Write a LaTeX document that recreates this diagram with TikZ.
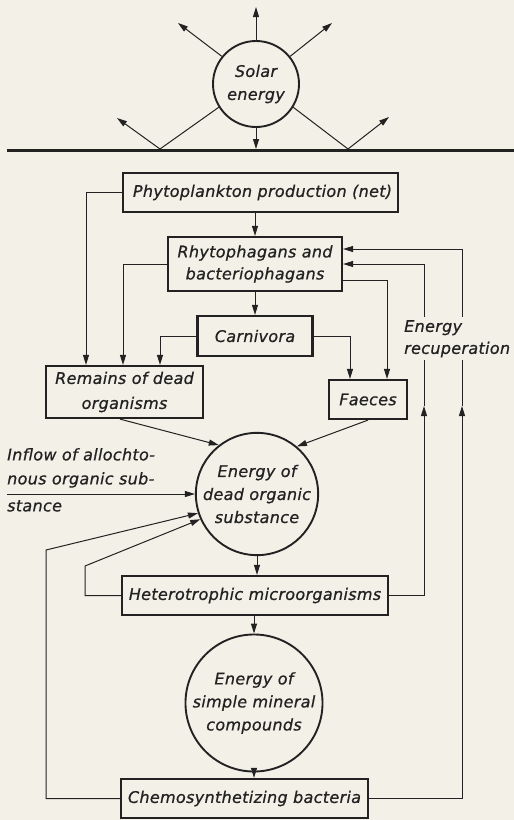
\documentclass[tikz,border=0pt]{standalone}
\usepackage{fontspec}
\setmainfont{DejaVu Sans}[LetterSpace=2, FakeBold=0.7]
\usetikzlibrary{arrows.meta}
\definecolor{paper}{RGB}{243,240,231}
\definecolor{ink}{RGB}{34,34,34}
\begin{document}
\begin{tikzpicture}[x=1pt,y=-1pt,
  every node/.style={font={\fontsize{16}{23}\selectfont\itshape}, text=ink},
  stepbox/.style={draw=ink, line width=2.2pt, inner sep=0pt, align=center},
  pool/.style={circle, draw=ink, line width=1.9pt, inner sep=0pt, align=center},
  link/.style={draw=ink, line width=1pt},
  flow/.style={link, -{Triangle[length=10pt,width=6pt]}}]

% page and background
\fill[paper] (0,0) rectangle (514,820);
\useasboundingbox (0,0) rectangle (514,820);

% sun and its rays
\node[pool, minimum size=86pt] (sun) at (256,84) {Solar\\energy};
\coordinate (rayN)  at (256,7);
\coordinate (rayNW) at (178,23);
\coordinate (rayNE) at (332,23);
\coordinate (reflW) at (160,149);
\coordinate (reflE) at (348,149);
\coordinate (rayW)  at (117,118);
\coordinate (rayE)  at (389,117);
\coordinate (surf)  at (256,149);
\coordinate (horW)  at (7,150);
\coordinate (horE)  at (514,150);
\draw[flow] (sun.north) -- (rayN);
\draw[flow] (sun.141) -- (rayNW);
\draw[flow] (sun.39) -- (rayNE);
\draw[flow] (sun.-148) -- (reflW) -- (rayW);
\draw[flow] (sun.-32) -- (reflE) -- (rayE);
\draw[flow] (sun.south) -- (surf);
\draw[ink, line width=3pt] (horW) -- (horE);

% boxes of the food chain
\node[stepbox, minimum width=275pt, minimum height=39pt] (phyto) at (260.5,192.5) {\hspace*{4pt}Phytoplankton production (net)};
\node[stepbox, minimum width=174pt, minimum height=54pt, font={\fontsize{16}{22}\selectfont\itshape}] (rhyto) at (255,264) {Rhytophagans and\\bacteriophagans};
\node[stepbox, minimum width=115pt, minimum height=40pt] (carn) at (255,336) {Carnivora};
\node[stepbox, minimum width=157pt, minimum height=52pt, font={\fontsize{16}{25}\selectfont\itshape}] (remains) at (124.5,392) {Remains of dead\\organisms};
\node[stepbox, minimum width=78pt, minimum height=39pt] (faeces) at (368,399.5) {Faeces};
\node[pool, minimum size=114pt] (dead) at (257,494) {Energy of\\dead organic\\substance};
\node[stepbox, minimum width=266pt, minimum height=39pt] (hetero) at (255,595.5) {Heterotrophic microorganisms};
\node[pool, minimum size=112pt] (mineral) at (254,703) {Energy of\\simple mineral\\compounds};
\node[stepbox, minimum width=247pt, minimum height=39pt] (chemo) at (244.5,798.5) {Chemosynthetizing bacteria};

% downward flows
\draw[flow] (rhyto.north |- phyto.south) -- (rhyto.north);
\draw[flow] (rhyto.south) -- (carn.north);
\draw[flow] (phyto.west) -| ([xshift=-38.5pt]remains.north);
\draw[flow] (rhyto.west) -| ([xshift=-1.5pt]remains.north);
\draw[flow] (carn.west) -| ([xshift=35.5pt]remains.north);
\draw[flow] ([yshift=-16pt]rhyto.east) -| ([xshift=19pt]faeces.north);
\draw[flow] (carn.east) -| ([xshift=-18pt]faeces.north);
\draw[flow] ([xshift=-4.5pt]remains.south) -- (dead.128);
\draw[flow] (faeces.south) -- (dead.50);
\draw[flow] (dead.south) -- (dead.south |- hetero.north);
\draw[flow] (mineral.north |- hetero.south) -- (mineral.north);
\draw[flow] (mineral.south) -- (mineral.south |- chemo.north);

% allochthonous inflow
\node[align=left, anchor=north west, inner sep=0pt, font={\fontsize{16}{24}\selectfont\itshape}] (inflow) at (7,448) {Inflow of allochto-\\nous organic sub-\\[3pt]stance};
\coordinate (inflowW) at (7,494);
\draw[flow] (inflowW) -- (dead.west);

% returns to the pool of dead organic substance
\coordinate (loopA) at (85,566);
\coordinate (loopB) at (46,550);
\draw[flow] (hetero.west) -| (loopA) -- (dead.-156);
\draw[flow] (chemo.west) -| (loopB) -- (dead.-162);

% energy recuperation
\coordinate (recA) at (424,406);
\coordinate (recB) at (462,406);
\draw[flow] (hetero.east) -| (recA);
\draw[flow] (recA) |- (rhyto.east);
\draw[flow] (chemo.east) -| (recB);
\draw[flow] (recB) |- ([yshift=15pt]rhyto.east);
\node[align=left, anchor=north west, fill=paper, inner sep=3pt, font={\fontsize{16}{22}\selectfont\itshape}] (recup) at (401,317) {Energy\\recuperation};

\end{tikzpicture}
\end{document}
